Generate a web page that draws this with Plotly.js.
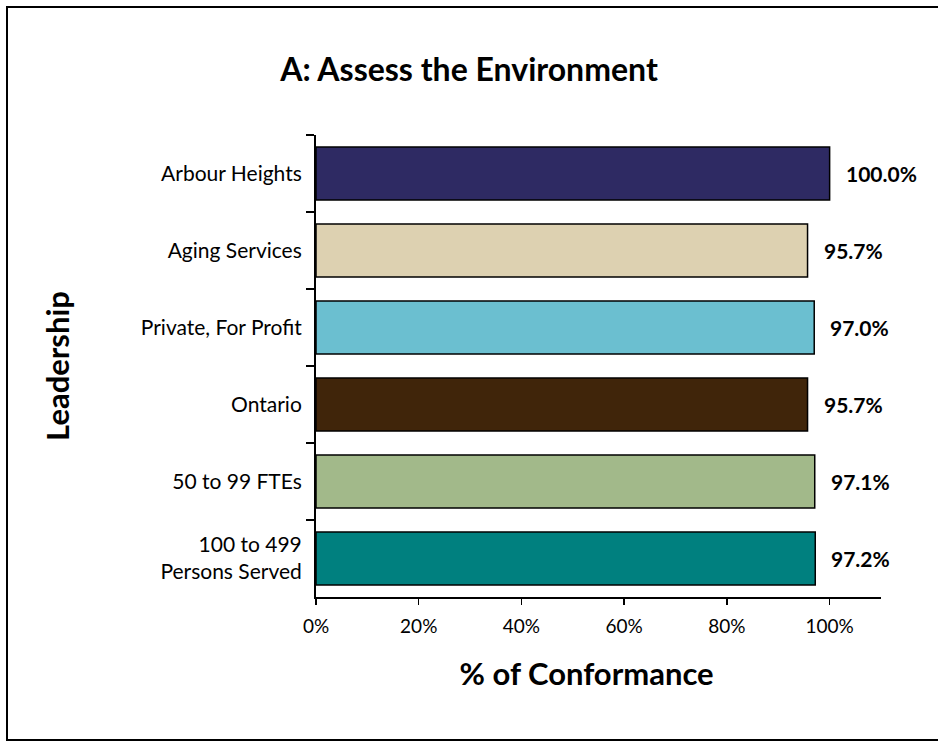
<!DOCTYPE html>
<html>
<head>
<meta charset="utf-8">
<script src="https://cdn.plot.ly/plotly-3.0.1.min.js"></script>
<style>
html,body{margin:0;padding:0;background:#fff;}
#chart{width:938px;height:742px;}
</style>
</head>
<body>
<div id="chart"></div>
<script>
const categories = ["Arbour Heights", "Aging Services", "Private, For Profit", "Ontario", "50 to 99 FTEs", "100 to 499<br>Persons Served"];
const values = [1.000, 0.957, 0.970, 0.957, 0.971, 0.972];
const barColors = ["#2E2A63", "#DDD1B1", "#6BBFD0", "#40250A", "#A2B98A", "#00807F"];
const xTickValues = [0, 0.2, 0.4, 0.6, 0.8, 1.0];
const xTickLabels = ["0%", "20%", "40%", "60%", "80%", "100%"];

const FONT = "Lato, 'Open Sans', sans-serif";
const W = 938, H = 742;
const margin = {l: 316, r: 57, t: 135, b: 145, pad: 0};
const pw = W - margin.l - margin.r, ph = H - margin.t - margin.b;
const px2x = p => (p - margin.l) / pw;
const px2y = p => (H - margin.b - p) / ph;

const trace = {
  type: "bar",
  orientation: "h",
  y: categories,
  x: values,
  marker: {color: barColors, line: {color: "#000", width: 1.5}},
  hoverinfo: "x+y",
  showlegend: false
};

const annotations = values.map((v, i) => ({
  x: v, y: categories[i], xref: "x", yref: "y",
  text: "<b>" + (v * 100).toFixed(1) + "%</b>",
  showarrow: false, xanchor: "left", yanchor: "middle", xshift: 14,
  font: {family: FONT, size: 21, color: "#000"}
}));

const layout = {
  width: W, height: H,
  margin: margin,
  paper_bgcolor: "#fff", plot_bgcolor: "#fff",
  bargap: 0.31,
  font: {family: FONT, color: "#000"},
  title: {
    text: "<b>A: Assess the Environment</b>",
    font: {family: FONT, size: 32, color: "#000"},
    x: 0.5, xref: "container", xanchor: "center",
    y: 1 - 70 / H, yref: "container", yanchor: "middle"
  },
  xaxis: {
    range: [0, 1.1],
    tickvals: xTickValues, ticktext: xTickLabels,
    ticks: "outside", ticklen: 6, tickwidth: 1.5, tickcolor: "#000",
    showline: true, linecolor: "#000", linewidth: 2,
    showgrid: false, zeroline: false,
    ticklabelstandoff: 5,
    tickfont: {family: FONT, size: 19, color: "#000"},
    title: {text: "<b>% of Conformance</b>&nbsp;&nbsp;&nbsp;", font: {family: FONT, size: 31, color: "#000"}, standoff: 28},
    fixedrange: true
  },
  yaxis: {
    autorange: "reversed",
    ticks: "outside", tickson: "boundaries", ticklen: 8, tickwidth: 1.5, tickcolor: "#000",
    showline: true, linecolor: "#000", linewidth: 2,
    showgrid: false, zeroline: false,
    ticklabelstandoff: 8,
    tickfont: {family: FONT, size: 21, color: "#000"},
    title: {text: "<b>Leadership</b>", font: {family: FONT, size: 31, color: "#000"}, standoff: 62},
    fixedrange: true
  },
  annotations: annotations,
  shapes: [{
    type: "rect", xref: "paper", yref: "paper", layer: "below",
    x0: px2x(7), x1: px2x(960), y0: px2y(7), y1: px2y(740),
    line: {color: "#000", width: 2}, fillcolor: "rgba(0,0,0,0)"
  }]
};

Plotly.newPlot("chart", [trace], layout, {displayModeBar: false, staticPlot: true});
</script>
</body>
</html>
